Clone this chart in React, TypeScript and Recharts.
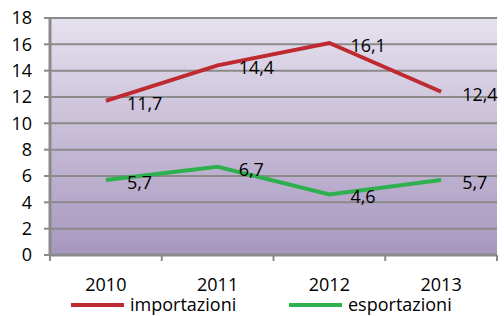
import React from 'react';
import { LineChart, Line, XAxis, YAxis, CartesianGrid, LabelList } from 'recharts';

const years = ['2010', '2011', '2012', '2013'];
const importazioni = [11.7, 14.4, 16.1, 12.4];
const esportazioni = [5.7, 6.7, 4.6, 5.7];
const yTicks = [0, 2, 4, 6, 8, 10, 12, 14, 16, 18];
const seriesNames = ['importazioni', 'esportazioni'];
const seriesColors = ['#be2a2f', '#2fb04e'];

const data = years.map((year, i) => ({
  year,
  importazioni: importazioni[i],
  esportazioni: esportazioni[i],
}));

const FONT = '"Open Sans", "Liberation Sans", sans-serif';
const GRID = '#8a8a8a';

const formatNum = (v: number) => v.toFixed(1).replace('.', ',');

const ValueLabel: React.FC<any> = ({ x, y, value }) => (
  <text x={x + 21} y={y + 9} fontSize={18} fontFamily={FONT} fill="#000">
    {formatNum(value)}
  </text>
);

// y arrives as axis line + tickSize + tickMargin (6 + 2)
const YearTick: React.FC<any> = (props) => {
  const { x, y, payload, index } = props;
  const half = payload?.offset ?? 56;
  const axisY = y - 8;
  return (
    <g>
      <line x1={x - half} x2={x - half} y1={axisY} y2={axisY + 6} stroke={GRID} strokeWidth={2} />
      {index === years.length - 1 && (
        <line x1={x + half} x2={x + half} y1={axisY} y2={axisY + 6} stroke={GRID} strokeWidth={2} />
      )}
      <text x={x} y={axisY + 36} textAnchor="middle" fontSize={18} fontFamily={FONT} fill="#000">
        {payload.value}
      </text>
    </g>
  );
};

export default function App() {
  return (
    <div style={{ position: 'absolute', left: 0, top: 0, width: 504, height: 316, background: '#fff' }}>
      <LineChart width={504} height={316} data={data} margin={{ top: 18, right: 7, left: 0, bottom: 25 }}>
        <defs>
          <linearGradient id="plotBg" x1="0" y1="0" x2="0" y2="1">
            <stop offset="0%" stopColor="#e6e1ee" />
            <stop offset="100%" stopColor="#a797bf" />
          </linearGradient>
        </defs>
        <CartesianGrid vertical={false} stroke={GRID} strokeWidth={2} fill="url(#plotBg)" fillOpacity={1} />
        <XAxis
          dataKey="year"
          scale="band"
          height={36}
          axisLine={{ stroke: GRID, strokeWidth: 3 }}
          tickLine={false}
          tick={<YearTick />}
          interval={0}
        />
        <YAxis
          width={50}
          domain={[0, 18]}
          ticks={yTicks}
          interval={0}
          axisLine={{ stroke: GRID, strokeWidth: 3 }}
          tickLine={{ stroke: GRID, strokeWidth: 2 }}
          tickSize={6}
          tickMargin={12}
          tick={{ fontSize: 18, fontFamily: FONT, fill: '#000' }}
        />
        <Line dataKey="importazioni" name="importazioni" stroke={seriesColors[0]} strokeWidth={4} dot={false} isAnimationActive={false}>
          <LabelList dataKey="importazioni" content={<ValueLabel />} />
        </Line>
        <Line dataKey="esportazioni" name="esportazioni" stroke={seriesColors[1]} strokeWidth={4} dot={false} isAnimationActive={false}>
          <LabelList dataKey="esportazioni" content={<ValueLabel />} />
        </Line>
      </LineChart>
      <div
        style={{
          position: 'absolute', left: 71, top: 296, display: 'flex',
          fontFamily: FONT, fontSize: 18, lineHeight: '17px',
        }}
      >
        {seriesNames.map((name, i) => (
          <div key={name} style={{ display: 'flex', alignItems: 'center', width: i === 0 ? 218 : 'auto' }}>
            <svg width={53} height={8} style={{ marginRight: 6 }}>
              <line x1={0} x2={53} y1={4} y2={4} stroke={seriesColors[i]} strokeWidth={4} />
            </svg>
            <span style={{ color: '#000' }}>{name}</span>
          </div>
        ))}
      </div>
    </div>
  );
}
